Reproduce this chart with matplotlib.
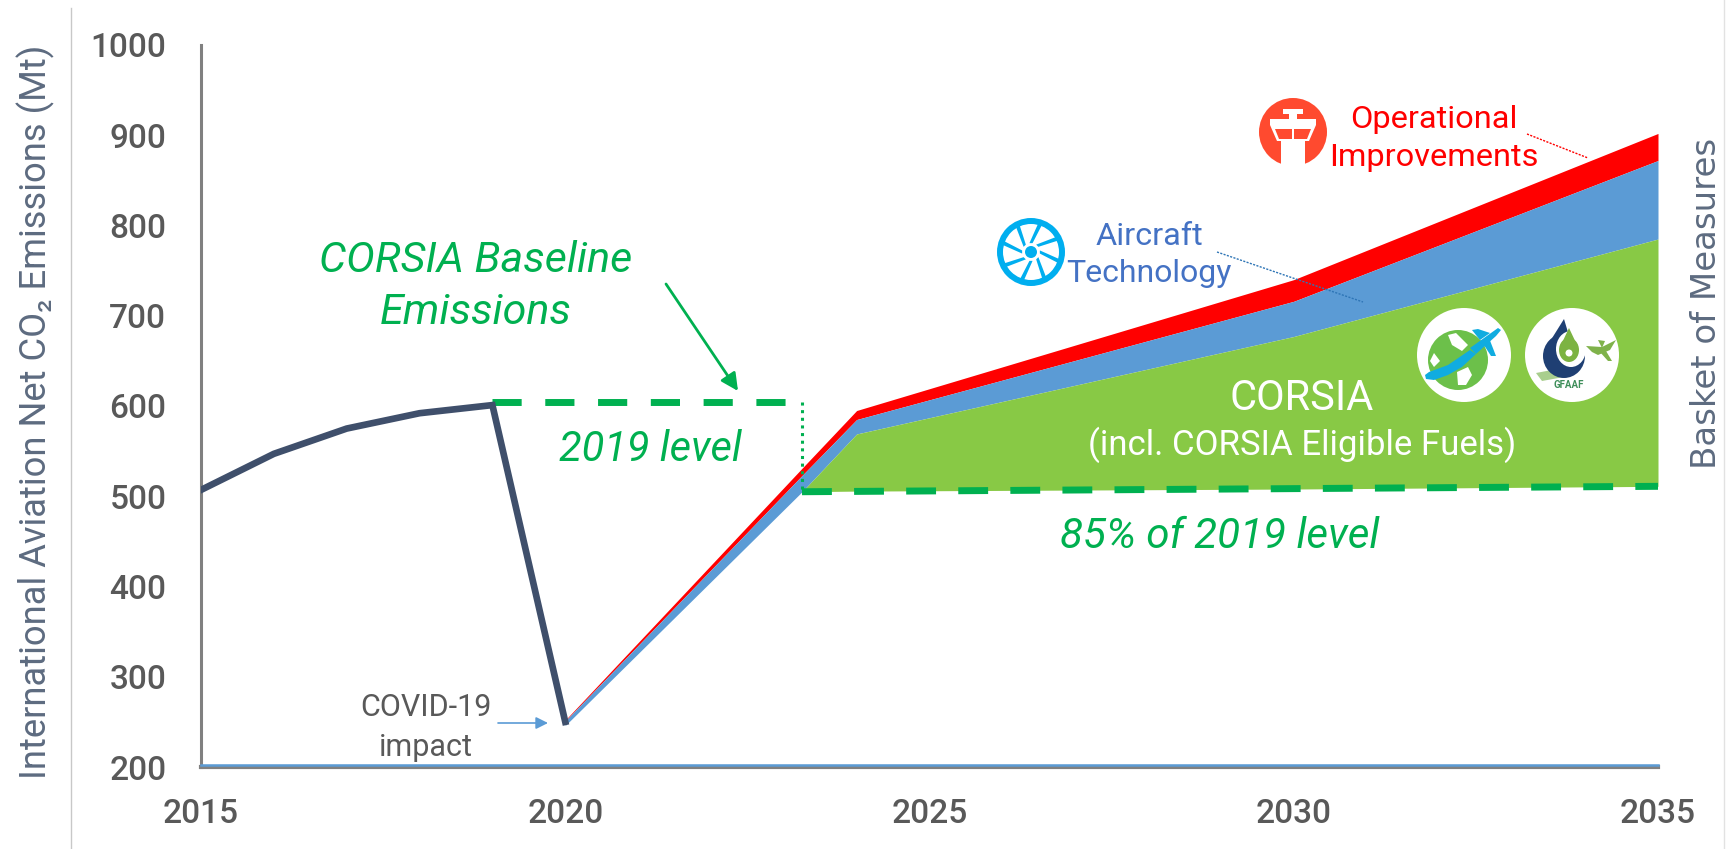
import numpy as np
import matplotlib
matplotlib.use("Agg")
import matplotlib.pyplot as plt
from matplotlib.patches import Circle, Polygon, Ellipse, FancyArrowPatch

plt.rcParams['font.family'] = ['Roboto', 'DejaVu Sans']

# History up to the covid dip
hist_years = [2015, 2016, 2017, 2018, 2019, 2020]
hist_co2 = [507, 547, 575, 592, 601, 250]

# Stack edges after the dip
years = [2020, 2023.25, 2024, 2030, 2035]
top_ops = [252, 531, 595, 740, 902]
top_tech = [251, 523, 585, 716, 872]
top_corsia = [246, 505, 569, 677, 785]
floor = [246, 505, 505.7, 508, 511]

base_years = [2019, 2023.25]
base_level = [604, 604]
floor_years = [2023.25, 2035]
floor_level = [505, 511]

x_ticks = [2015, 2020, 2025, 2030, 2035]
y_ticks = [200, 300, 400, 500, 600, 700, 800, 900, 1000]

GREEN = '#00B050'
RED = '#FF0000'
BLUE = '#5B9BD5'
LIME = '#88C945'
NAVY = '#3F4F6B'
GREY = '#595959'
SLATE = '#5D6B80'

W, H = 1729, 849
fig = plt.figure(figsize=(W / 100, H / 100), dpi=100)
ax = fig.add_axes([201 / W, 1 - 767 / H, (1658 - 201) / W, (767 - 45) / H])
ax.set_xlim(2015, 2035)
ax.set_ylim(200, 1000)

ax.fill_between(years, top_tech, top_ops, color=RED, lw=0, zorder=2)
ax.fill_between(years, top_corsia, top_tech, color=BLUE, lw=0, zorder=2)
ax.fill_between(years, floor, top_corsia, color=LIME, lw=0, zorder=2)

ax.plot(hist_years, hist_co2, color=NAVY, lw=4.8, solid_joinstyle='miter', zorder=4)
ax.plot(base_years, base_level, color=GREEN, lw=5, ls=(0, (4.2, 3.4)), dash_capstyle='butt', zorder=3)
ax.plot(floor_years, floor_level, color=GREEN, lw=5, ls=(0, (4.3, 3.2)), dash_capstyle='butt', zorder=3)
ax.plot([2023.25, 2023.25], [604, 505], color=GREEN, lw=2.2, ls=(0, (1, 1.5)), zorder=3)

ax.spines[['top', 'right']].set_visible(False)
ax.spines['left'].set_color('#808080')
ax.spines['left'].set_linewidth(2.2)
ax.spines['bottom'].set_color('#808080')
ax.spines['bottom'].set_linewidth(3)
ax.axhline(202, color=BLUE, lw=1.8, zorder=5, clip_on=False)

ax.set_xticks(x_ticks)
ax.set_yticks(y_ticks)
ax.tick_params(length=0)
ax.tick_params(axis='y', pad=25)
ax.tick_params(axis='x', pad=22)
for lab in ax.get_xticklabels() + ax.get_yticklabels():
    lab.set_fontsize(24)
    lab.set_color(GREY)
    lab.set_fontweight('medium')

# overlay in image pixels for notes and icons
ov = fig.add_axes([0, 0, 1, 1])
ov.set_xlim(0, W)
ov.set_ylim(H, 0)
ov.axis('off')

ov.plot([71, 71], [8, H], color='#C8C8C8', lw=1)
ov.plot([1724, 1724], [0, H], color='#E2E2E2', lw=1)

ov.text(36, 412, 'International Aviation Net CO₂ Emissions (Mt)', rotation=90, fontsize=26.2,
        color=SLATE, ha='center', va='center')
ov.text(1707, 303, 'Basket of Measures', rotation=90, fontsize=24.5, family=['DejaVu Sans'],
        color=SLATE, ha='center', va='center')

for txt, x, y, size in [('CORSIA Baseline', 476, 261, 31), ('Emissions', 476, 313, 31),
                        ('2019 level', 650, 449, 30), ('85% of 2019 level', 1220, 537, 30.3)]:
    ov.text(x, y, txt, color=GREEN, fontsize=size, style='italic', ha='center', va='center')

ov.text(426, 708, 'COVID-19', color=GREY, fontsize=22, ha='center', va='center')
ov.text(426, 747, 'impact', color=GREY, fontsize=22, ha='center', va='center')
ov.text(1434, 119, 'Operational', color=RED, fontsize=23.4, ha='center', va='center')
ov.text(1434, 157, 'Improvements', color=RED, fontsize=23.4, ha='center', va='center')
ov.text(1149, 236, 'Aircraft', color='#4472C4', fontsize=23.4, ha='center', va='center')
ov.text(1149, 274, 'Technology', color='#4472C4', fontsize=23, ha='center', va='center')
ov.text(1302, 398, 'CORSIA', color='white', fontsize=30, ha='center', va='center')
ov.text(1302, 445, '(incl. CORSIA Eligible Fuels)', color='white', fontsize=25, ha='center', va='center')

ov.add_patch(FancyArrowPatch((666, 284), (738, 391), arrowstyle='-|>', mutation_scale=26, color=GREEN, lw=2, shrinkA=0, shrinkB=0))
ov.add_patch(FancyArrowPatch((498, 723), (548, 723), arrowstyle='-|>', mutation_scale=18, color=BLUE, lw=1.2, shrinkA=0, shrinkB=0))
ov.plot([1527, 1588], [134, 158], color=RED, lw=1, ls=(0, (1.5, 1)))
ov.plot([1217, 1363], [252, 302], color='#2E75B6', lw=1, ls=(0, (1.5, 1)))


def shape(cx, cy, pts, col):
    ov.add_patch(Polygon([(cx + px, cy + py) for px, py in pts], color=col, lw=0))


# tower icon
cx, cy = 1293, 132
TOWER = '#FF4A2F'
ov.add_patch(Circle((cx, cy), 34, color=TOWER, lw=0))
shape(cx, cy, [(-12, 8), (12, 8), (12, 36), (-12, 36)], 'white')
shape(cx, cy, [(-23, -13), (23, -13), (23, -7), (16, 9), (-16, 9), (-23, -7)], 'white')
shape(cx, cy, [(-10, -23), (10, -23), (10, -18), (4, -18), (4, -13), (-4, -13), (-4, -18), (-10, -18)], 'white')
shape(cx, cy, [(-18, -3), (-1, -3), (-1, 7), (-14, 7)], TOWER)
shape(cx, cy, [(18, -3), (1, -3), (1, 7), (14, 7)], TOWER)

# fan icon
cx, cy = 1031, 252
FAN = '#00AEEF'
ov.add_patch(Circle((cx, cy), 34, color=FAN, lw=0))
ov.add_patch(Circle((cx, cy), 28, color='white', lw=0))
for a in range(0, 360, 45):
    gap = []
    for r, d in [(9, -10), (9, 10), (29, 22), (29, 14)]:
        t = np.radians(a + d)
        gap.append((r * np.cos(t), r * np.sin(t)))
    shape(cx, cy, gap, FAN)
ov.add_patch(Circle((cx, cy), 6, color=FAN, lw=0))

# globe icon
cx, cy = 1464, 355
SKY = '#10ACE0'
ov.add_patch(Circle((cx, cy), 47, color='white', lw=0))
ov.add_patch(Circle((cx - 6, cy + 5), 30, color='#6CC04A', lw=0))
shape(cx, cy, [(-16, -20), (-8, -22), (4, -10), (-2, -4), (-12, -10)], 'white')
shape(cx, cy, [(-7, 17), (4, 12), (8, 20), (2, 30), (-6, 30)], 'white')
shape(cx, cy, [(-30, -2), (-24, 6), (-30, 12), (-34, 6)], 'white')
shape(cx, cy, [(-39, 20), (-35, 17), (-16, 10), (6, -5), (12, -1), (-2, 12), (-16, 20), (-30, 25), (-38, 24)], SKY)
shape(cx, cy, [(6, -7), (34, -27), (37, -25), (32, -19), (12, -1)], SKY)
shape(cx, cy, [(8, -25), (14, -26), (26, -22), (16, -15)], SKY)
shape(cx, cy, [(18, -13), (25, -17), (32, 1), (27, 1)], SKY)

# gfaaf icon
cx, cy = 1572, 355
NAVY2 = '#1F3F73'
ov.add_patch(Circle((cx, cy), 47, color='white', lw=0))
shape(cx, cy, [(-36, 18), (6, 10), (-8, 22), (-30, 26)], '#A9CE8E')
ov.add_patch(Ellipse((cx - 8, cy + 1), 42, 44, color=NAVY2, lw=0))
shape(cx, cy, [(-8, -36), (-28, -4), (-2, -16)], NAVY2)
ov.add_patch(Ellipse((cx - 1, cy - 6), 30, 36, color='white', lw=0))
ov.add_patch(Ellipse((cx - 3, cy - 5), 20, 24, color='#7CB342', lw=0))
shape(cx, cy, [(-3, -27), (6, -8), (-12, -8)], '#7CB342')
ov.add_patch(Circle((cx - 3, cy - 2), 3.5, color='white', lw=0))
shape(cx, cy, [(14, -9), (30, -8), (44, -15), (38, -5), (26, 0), (20, -3)], '#7FB24A')
shape(cx, cy, [(26, -15), (33, -14), (30, -7)], '#7FB24A')
shape(cx, cy, [(28, -3), (34, -4), (40, 6), (36, 6)], '#7FB24A')
ov.text(cx - 3, cy + 30, 'GFAAF', color='#3E8E5A', fontsize=7, fontweight='bold', ha='center', va='center')

plt.savefig('out.png', dpi=100)
